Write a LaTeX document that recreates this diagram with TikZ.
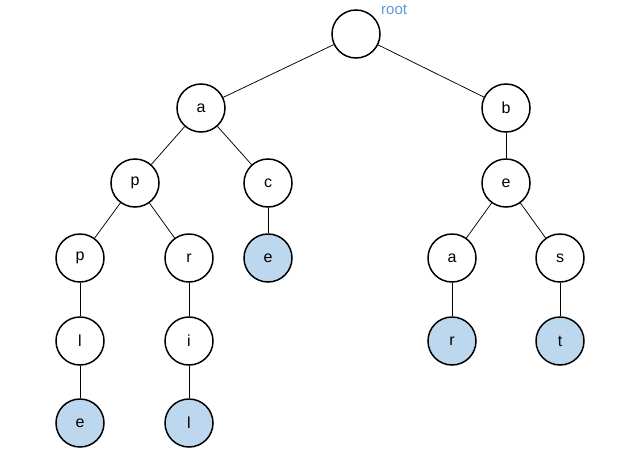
\documentclass[tikz,border=0pt]{standalone}
\usepackage{fontspec}
\setmainfont{Liberation Sans}
\definecolor{leaf}{HTML}{BDD7EE}
\definecolor{rootblue}{HTML}{5B9BD5}
\begin{document}
\begin{tikzpicture}[x=1pt,y=-1pt,
  tn/.style={circle,draw=black,line width=1.5pt,minimum size=48pt,inner sep=0pt,fill=white,font=\fontsize{16}{18}\selectfont},
  lf/.style={tn,fill=leaf},
  edge/.style={line width=0.75pt}]
\useasboundingbox (0,0) rectangle (619,461);
\node[tn] (root) at (356,34) {};
\node[font=\fontsize{15}{17}\selectfont,text=rootblue,anchor=west,inner sep=0pt] (rl) at (381,10) {root};
\node[tn] (a) at (201,108) {a};
\node[tn] (b) at (506,108) {b};
\node[tn] (p1) at (135,183) {p};
\node[tn] (c) at (268,183) {c};
\node[tn] (e1) at (506,183) {e};
\node[tn] (p2) at (80,258) {p};
\node[tn] (r1) at (189,258) {r};
\node[lf] (e2) at (268,258) {e};
\node[tn] (a2) at (452,258) {a};
\node[tn] (s) at (560,258) {s};
\node[tn] (l1) at (80,341) {l};
\node[tn] (i) at (189,341) {i};
\node[lf] (r2) at (452,341) {r};
\node[lf] (t) at (560,341) {t};
\node[lf] (e3) at (80,423) {e};
\node[lf] (l2) at (189,423) {l};
\draw[edge] (root) -- (a);
\draw[edge] (root) -- (b);
\draw[edge] (a) -- (p1);
\draw[edge] (a) -- (c);
\draw[edge] (b) -- (e1);
\draw[edge] (p1) -- (p2);
\draw[edge] (p1) -- (r1);
\draw[edge] (c) -- (e2);
\draw[edge] (e1) -- (a2);
\draw[edge] (e1) -- (s);
\draw[edge] (p2) -- (l1);
\draw[edge] (r1) -- (i);
\draw[edge] (a2) -- (r2);
\draw[edge] (s) -- (t);
\draw[edge] (l1) -- (e3);
\draw[edge] (i) -- (l2);
\end{tikzpicture}
\end{document}
